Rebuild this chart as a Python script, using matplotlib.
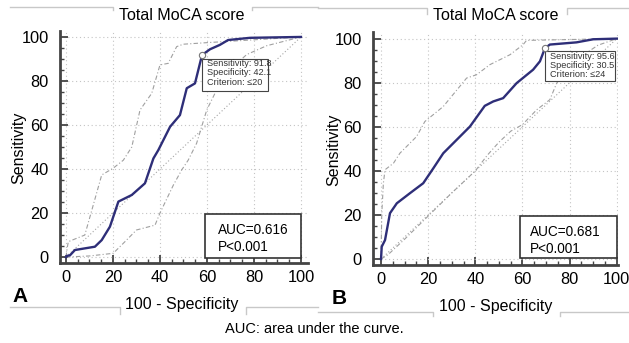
import numpy as np
import matplotlib
matplotlib.use('Agg')
import matplotlib.pyplot as plt
from matplotlib.lines import Line2D
from matplotlib.ticker import MultipleLocator

plt.rcParams['font.family'] = ['Liberation Sans', 'DejaVu Sans']

# panel A: ROC + confidence bands
a_main_x = [0, 0.3, 1.7, 3.8, 12.3, 15.2, 18.7, 22.3, 28, 33.6, 37.2, 39.3, 44.3, 48.5, 51.4, 54.9, 57.9, 61.3, 65.5, 69, 78.3, 100]
a_main_y = [0, 0.5, 0.8, 3.2, 4.7, 7.7, 13.8, 25.2, 28.2, 33.5, 44.8, 48.6, 59.2, 64.5, 76.7, 78.9, 91.8, 94.4, 96.4, 98.6, 99.6, 100]
a_up_x = [0, 0.5, 1, 8, 10.2, 15.2, 20, 24.4, 28, 31.5, 36.5, 40, 43.5, 47.1, 49.9, 59.9, 100]
a_up_y = [0, 4, 7, 10, 18.3, 37.3, 40.3, 44, 50, 66.8, 74.4, 87.3, 88, 95.6, 96.7, 97.4, 100]
a_lo_x = [0, 10, 20.1, 25.1, 30, 37.9, 40, 45.7, 49.2, 52, 55.6, 59.9, 64.1, 71.2, 76.9, 85.4, 100]
a_lo_y = [0, 0.5, 1.7, 7, 12.3, 14.5, 20, 32.7, 39.5, 44, 51.7, 66.8, 75.9, 86.5, 92, 96, 100]

# panel B
b_main_x = [0, 0.3, 1.7, 3.8, 6.7, 12.3, 17.9, 22.2, 26.4, 29.2, 37.7, 44, 47.6, 51.8, 57.5, 64.5, 67.4, 69.5, 71.6, 82.9, 90, 100]
b_main_y = [0, 5.6, 8.6, 20.8, 25.3, 29.9, 34.4, 41.2, 48, 51, 60.1, 69.5, 71.5, 73, 79.8, 85.9, 89.7, 95.6, 97.3, 98.3, 99.7, 100]
b_up_x = [0, 0.3, 1, 1.7, 5.3, 8, 15.1, 18.6, 26.4, 36.3, 40.5, 46.2, 54.7, 60.3, 61.7, 100]
b_up_y = [0, 20, 34.4, 40.5, 43.5, 48, 55.6, 62.4, 69.2, 82.1, 83.6, 88.2, 92.7, 97.3, 99.2, 100]
b_lo_x = [0, 3, 10, 20, 30, 40, 45, 50, 55, 60, 66, 71.6, 74.5, 80, 85, 92, 100]
b_lo_y = [0, 2, 9, 19.5, 30, 40, 47, 53, 58, 61, 67.7, 72.3, 79.8, 87.4, 92, 97, 100]

# optimal cut-off points
crit_x = [57.9, 69.5]
crit_y = [91.8, 95.6]
crit_lines = [['Sensitivity: 91.8', 'Specificity: 42.1', 'Criterion: \u226420'],
              ['Sensitivity: 95.6', 'Specificity: 30.5', 'Criterion: \u226424']]
auc_txt = ['AUC=0.616\nP<0.001', 'AUC=0.681\nP<0.001']
ticks = [0, 20, 40, 60, 80, 100]

W, H = 629, 343
fig = plt.figure(figsize=(W / 100, H / 100), dpi=100)

def fx(px):
    return px / W

def fy(py):
    return 1 - py / H

panels = [
    dict(rect=[fx(60), fy(263), fx(308) - fx(60), fy(31) - fy(263)], xlim=(-2.55, 103), ylim=(-2.7, 102.7),
         main=(a_main_x, a_main_y), up=(a_up_x, a_up_y), lo=(a_lo_x, a_lo_y),
         cbox=(57.7, 75.6, 86.1, 89.9), ctext=(60.0, [88.0, 83.7, 79.3]),
         auc=(64.5, 8.5), aucbox=(59, -0.5, 100, 19.5)),
    dict(rect=[fx(373), fy(265), fx(618) - fx(373), fy(32) - fy(265)], xlim=(-3.4, 100.5), ylim=(-2.7, 103),
         main=(b_main_x, b_main_y), up=(b_up_x, b_up_y), lo=(b_lo_x, b_lo_y),
         cbox=(69.5, 80.6, 99.2, 94.2), ctext=(71.7, [92.0, 87.8, 83.5]),
         auc=(63, 8.5), aucbox=(59, 0.5, 100, 19.5)),
]

for i, p in enumerate(panels):
    ax = fig.add_axes(p['rect'])
    ax.set_xlim(*p['xlim'])
    ax.set_ylim(*p['ylim'])
    ax.set_xticks(ticks)
    ax.set_yticks(ticks)
    ax.xaxis.set_minor_locator(MultipleLocator(5))
    ax.yaxis.set_minor_locator(MultipleLocator(5))
    ax.tick_params(which='major', direction='in', length=6, width=1.3, color='#444444', labelsize=11.8, pad=5)
    ax.tick_params(axis='y', which='major', pad=8)
    ax.tick_params(which='minor', direction='in', length=3, width=1, color='#444444')
    for s in ['top', 'right']:
        ax.spines[s].set_visible(False)
    for s in ['left', 'bottom']:
        ax.spines[s].set_color('#444444')
        ax.spines[s].set_linewidth(2)
    ax.grid(True, which='major', color='#c4c4c4', linestyle=(0, (1, 2.5)), linewidth=0.8)
    ax.set_axisbelow(True)

    ax.plot([0, 100], [0, 100], color='#a5a5a5', lw=0.8, ls=(0, (1, 2)))
    ax.plot(*p['up'], color='#a0a0a0', lw=0.8, ls=(0, (4, 2, 1, 2)))
    ax.plot(*p['lo'], color='#a0a0a0', lw=0.8, ls=(0, (4, 2, 1, 2)))
    ax.plot(*p['main'], color='#2e2e78', lw=1.7)

    # criterion box
    x0, y0, x1, y1 = p['cbox']
    ax.add_patch(plt.Rectangle((x0, y0), x1 - x0, y1 - y0, fc='white', ec='#444444', lw=0.8, zorder=3))
    tx, tys = p['ctext']
    for line, ty in zip(crit_lines[i], tys):
        ax.text(tx, ty, line, fontsize=6.6, va='center', ha='left', color='#333333', zorder=4)
    ax.plot([crit_x[i]], [crit_y[i]], 'o', ms=4.5, mfc='white', mec='#777777', mew=0.8, zorder=5)

    x0, y0, x1, y1 = p['aucbox']
    ax.add_patch(plt.Rectangle((x0, y0), x1 - x0, y1 - y0, fill=True, fc='white', ec='#333333', lw=1.2, zorder=3))
    ax.text(p['auc'][0], p['auc'][1], auc_txt[i], fontsize=9.8, va='center', ha='left', linespacing=1.25, zorder=4)

# titles, axis labels, panel letters
fig.text(fx(181.5), fy(16), 'Total MoCA score', ha='center', va='center', fontsize=11.5)
fig.text(fx(496), fy(16), 'Total MoCA score', ha='center', va='center', fontsize=11.5)
fig.text(fx(182), fy(305), '100 - Specificity', ha='center', va='center', fontsize=11.5)
fig.text(fx(496), fy(307), '100 - Specificity', ha='center', va='center', fontsize=11.5)
fig.text(fx(18.5), fy(148), 'Sensitivity', ha='center', va='center', rotation=90, fontsize=11.5)
fig.text(fx(334), fy(150), 'Sensitivity', ha='center', va='center', rotation=90, fontsize=11.5)
fig.text(fx(20), fy(296), 'A', ha='center', va='center', fontsize=15, fontweight='bold')
fig.text(fx(339), fy(298), 'B', ha='center', va='center', fontsize=15, fontweight='bold')
fig.text(0.5, fy(329), 'AUC: area under the curve.', ha='center', va='center', fontsize=10.5)

# light frame lines around the panels
frame = [
    [(10, 7), (113, 7), (113, 10)], [(252, 10), (252, 7), (318, 7)],
    [(10, 307), (120, 307), (120, 314)], [(246, 314), (246, 307), (318, 307)],
    [(318, 8), (427, 8), (427, 14)], [(567, 14), (567, 8), (629, 8)],
    [(318, 312), (433, 312), (433, 316)], [(560, 316), (560, 312), (629, 312)],
]
for seg in frame:
    xs = [fx(a) for a, b in seg]
    ys = [fy(b) for a, b in seg]
    fig.add_artist(Line2D(xs, ys, color='#c8c8c8', lw=1))

fig.savefig('out.png', dpi=100)
